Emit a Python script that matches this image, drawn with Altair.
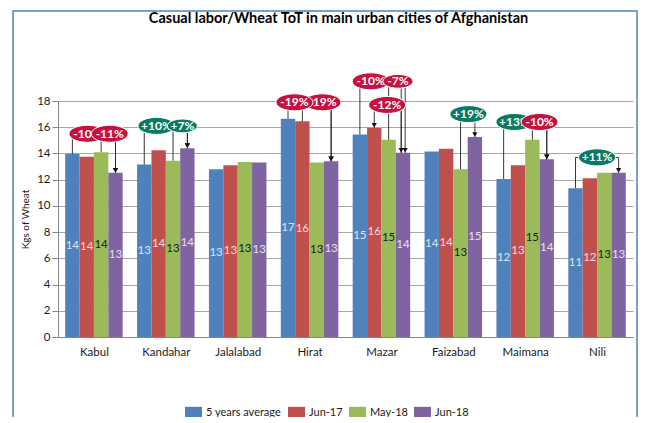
import json
import altair as alt
import pandas as pd

# ---------------- data ----------------
cities = ["Kabul", "Kandahar", "Jalalabad", "Hirat", "Mazar", "Faizabad", "Maimana", "Nili"]
series = ["5 years average", "Jun-17", "May-18", "Jun-18"]
five_year_avg = [13.95, 13.15, 12.8, 16.65, 15.45, 14.15, 12.05, 11.35]
jun_17 = [13.75, 14.25, 13.1, 16.45, 15.95, 14.35, 13.1, 12.1]
may_18 = [14.1, 13.45, 13.35, 13.3, 15.05, 12.8, 15.05, 12.52]
jun_18 = [12.52, 14.4, 13.3, 13.4, 14.05, 15.25, 13.55, 12.52]

# callouts (percentage change from one series to another, per city)
callout_city = [0, 0, 1, 1, 3, 3, 4, 4, 4, 5, 6, 6, 7]
callout_from = [0, 2, 0, 2, 1, 0, 0, 2, 1, 2, 0, 2, 0]
callout_to = [3, 3, 3, 3, 3, 3, 3, 3, 3, 3, 3, 3, 3]
callout_label = ["-10%", "-11%", "+10%", "+7%", "-19%", "-19%", "-10%", "-7%", "-12%",
                 "+19%", "+13%", "-10%", "+11%"]
# callout layout (level in kg units, ellipse offset in category units)
callout_level = [15.5, 15.5, 16.1, 16.1, 17.9, 17.9, 19.5, 19.5, 17.7, 17.0, 16.4, 16.4, 13.7]
callout_offset = [-0.09, 0.22, -0.13, 0.23, 0.18, -0.21, -0.15, 0.23, 0.08, 0.21, -0.15, 0.2, 0.0]
callout_nudge = [0, 0, 0, 0, 0, 0, -0.025, 0.03, -0.025, 0, 0, 0, 0]
callout_arrow_at_from = [False] * 8 + [True] + [False] * 4

title_text = "Casual labor/Wheat ToT in main urban cities of Afghanistan"
y_title = "Kgs of Wheat"

# ---------------- styles ----------------
FONT = "Lato"
BAR_W = 0.2
bar_colors = ["#4F81BD", "#C0504D", "#9BBB59", "#8064A2"]
text_colors = ["#DCE6F2", "#F2DCDB", "#1a1a1a", "#E6E0EC"]
NEG = "#C8103E"
POS = "#0B7A63"
ELLIPSE = ("M-1,0 C-1,-0.254 -0.552,-0.46 0,-0.46 C0.552,-0.46 1,-0.254 1,0 "
           "C1,0.254 0.552,0.46 0,0.46 C-0.552,0.46 -1,0.254 -1,0 Z")
LEGEND_RECT = "M-1,-0.7 L1,-0.7 L1,0.7 L-1,0.7 Z"

all_values = [five_year_avg, jun_17, may_18, jun_18]

rows = []
for si, s in enumerate(series):
    for ci, c in enumerate(cities):
        v = all_values[si][ci]
        x0 = ci + (si - 2) * BAR_W
        rows.append(dict(city=c, series=s, value=v, x0=x0, x1=x0 + BAR_W,
                         xc=x0 + BAR_W / 2, mid=v / 2, zero=0))
bars_df = pd.DataFrame(rows)


def bar_x(ci, si):
    return ci + (si - 1.5) * BAR_W


seg_rows, arrow_rows, ell_rows = [], [], []
for k in range(len(callout_city)):
    ci, fs, ts = callout_city[k], callout_from[k], callout_to[k]
    fx = bar_x(ci, fs)
    tx = bar_x(ci, ts) + callout_nudge[k]
    fv = all_values[fs][ci]
    tv = all_values[ts][ci]
    lv = callout_level[k]
    seg_rows += [dict(x=fx, x2=fx, y=fv, y2=lv),
                 dict(x=fx, x2=tx, y=lv, y2=lv),
                 dict(x=tx, x2=tx, y=lv, y2=tv)]
    if callout_arrow_at_from[k]:
        arrow_rows.append(dict(x=fx, y=fv + 0.2))
    else:
        arrow_rows.append(dict(x=tx, y=tv + 0.2))
    ell_rows.append(dict(x=ci + callout_offset[k], y=lv, label=callout_label[k]))

seg_df = pd.DataFrame(seg_rows)
arrow_df = pd.DataFrame(arrow_rows)

xscale = alt.Scale(domain=[-0.5, 7.5], nice=False, zero=False)
yscale = alt.Scale(domain=[0, 18], nice=False)

label_expr = json.dumps(cities) + "[datum.value]"

x_axis = alt.Axis(values=list(range(len(cities))), labelExpr=label_expr, ticks=False,
                  grid=False, domainColor="#868686", labelPadding=9,
                  labelFontSize=11.5, labelFont=FONT, labelColor="#1a1a1a",
                  labelOverlap=False)
y_axis = alt.Axis(values=list(range(0, 19, 2)), grid=True, gridColor="#a6a6a6",
                  domainColor="#868686", tickColor="#868686", tickSize=6,
                  labelPadding=2, labelFontSize=11.5, labelFont=FONT,
                  labelColor="#1a1a1a", titleFont=FONT, titleFontSize=10,
                  titleFontWeight="normal", titleColor="#1a1a1a", titlePadding=6,
                  labelOverlap=False, labelFlush=False)


def X(field):
    return alt.X(field, scale=xscale, axis=x_axis, title=None)


def Y(field):
    return alt.Y(field, scale=yscale, axis=y_axis, title=y_title)


bars = alt.Chart(bars_df).mark_rect().encode(
    x=X("x0:Q"),
    x2="x1:Q",
    y=Y("value:Q"),
    y2="zero:Q",
    color=alt.Color("series:N", scale=alt.Scale(domain=series, range=bar_colors),
                    legend=alt.Legend(title=None, orient="none", legendX=127, legendY=303,
                                      direction="horizontal", symbolType=LEGEND_RECT,
                                      symbolSize=289, symbolStrokeWidth=0, labelFont=FONT,
                                      labelFontSize=11, labelColor="#1a1a1a",
                                      columnPadding=6, labelOffset=4, padding=0)),
)

bar_text = alt.Chart(bars_df).mark_text(font=FONT, fontSize=11.5, baseline="middle").encode(
    x=X("xc:Q"),
    y=Y("mid:Q"),
    text=alt.Text("value:Q", format=".0f"),
    color=alt.Color("series:N", scale=alt.Scale(domain=series, range=text_colors), legend=None),
)

segs = alt.Chart(seg_df).mark_rule(color="#222222", strokeWidth=0.9).encode(
    x=X("x:Q"), x2="x2:Q", y=Y("y:Q"), y2="y2:Q")

arrows = alt.Chart(arrow_df).mark_point(shape="triangle-down", filled=True, color="#111111",
                                        size=28, opacity=1).encode(x=X("x:Q"), y=Y("y:Q"))

ell_layers = []
for r in ell_rows:
    d = pd.DataFrame([r])
    fill = NEG if r["label"].startswith("-") else POS
    w = 30 if len(r["label"]) == 3 else 37
    ell = alt.Chart(d).mark_point(shape=ELLIPSE, filled=True, fill=fill, stroke="#ffffff",
                                  strokeWidth=1, opacity=1, size=w * w).encode(
        x=X("x:Q"), y=Y("y:Q"))
    txt = alt.Chart(d).mark_text(font=FONT, fontSize=12, fontWeight="bold", color="white",
                                 baseline="middle").encode(
        x=X("x:Q"), y=Y("y:Q"), text="label:N")
    ell_layers += [ell, txt]

frame = alt.Chart(alt.Data(values=[{"f": 1}])).mark_rect(
    fill=None, stroke="#4F81BD", strokeWidth=1.5).encode(
    x=alt.value(-45), x2=alt.value(579), y=alt.value(-90), y2=alt.value(345))

chart = alt.layer(bars, bar_text, segs, arrows, *ell_layers, frame).resolve_scale(
    color="independent"
).properties(
    width=575, height=236,
    autosize=alt.AutoSizeParams(type="none"),
    padding={"left": 50, "top": 93, "right": 5, "bottom": 80},
    title=alt.Title(title_text, font=FONT, fontSize=14.5, fontWeight="bold", anchor="middle",
                    color="#000000", offset=-23, dx=-7, baseline="middle"),
).configure(background="white", view=alt.ViewConfig(stroke=None))

chart.save("out.html", embed_options={"renderer": "svg", "actions": False})
